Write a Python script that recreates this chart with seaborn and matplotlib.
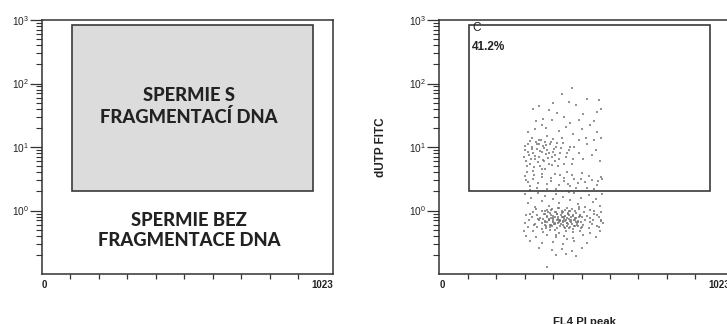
import matplotlib
matplotlib.use("Agg")
import matplotlib.pyplot as plt
import matplotlib.ticker as mticker
from matplotlib.patches import Rectangle
import seaborn as sns
import pandas as pd

# ---------------- data ----------------
x_limits = [0, 1023]
y_limits = [0.1, 1000]
x_tick_values = [0, 1023]
x_tick_labels = ["0", "1023"]
x_minor_ticks = [100, 200, 300, 400, 500, 600, 700, 800, 900]
y_tick_values = [1, 10, 100, 1000]
y_tick_labels = [r"$\mathregular{10^{0}}$", r"$\mathregular{10^{1}}$",
                 r"$\mathregular{10^{2}}$", r"$\mathregular{10^{3}}$"]

gate_x = [105, 953]      # FL4 PI peak range of gate C
gate_y = [2.0, 830]      # dUTP FITC range of gate C
gate_name = "C"
gate_percent = "41.2%"

label_fragmented = "SPERMIE S\nFRAGMENTACÍ DNA"
label_intact = "SPERMIE BEZ\nFRAGMENTACE DNA"
label_fragmented_pos = [517, 44]
label_intact_pos = [517, 0.49]

x_label = "FL4 PI peak"
y_label = "dUTP FITC"

# events inside gate C (fragmented DNA)
events_in_x = [465, 430, 350, 385, 520, 560, 555, 400, 480, 330, 505, 440, 365, 545, 415, 490, 340, 570, 455, 395,
               310, 335, 360, 380, 420, 445, 470, 500, 530, 555, 570, 325, 350, 400, 430, 460, 515, 545, 375, 490,
               300, 305, 310, 315, 320, 325, 330, 335, 340, 345, 350, 352, 355, 360, 365, 368, 372, 375, 380, 385,
               390, 395, 400, 405, 410, 418, 425, 435, 445, 455, 465, 475, 490, 505, 520, 535, 550, 565, 330, 360,
               300, 312, 328, 345, 362, 378, 392, 410, 425, 440, 458, 472, 488, 502, 520, 538, 556, 570, 318, 450,
               298, 302, 308, 313, 318, 322, 327, 333, 338, 343, 348, 353, 358, 363, 367, 371, 376, 382, 387, 392,
               397, 403, 408, 413, 420, 428, 438, 448, 458, 470,
               303, 317, 332, 347, 362, 377, 392, 407, 422, 437, 452, 467, 482, 497, 512, 527, 542, 557, 572, 308]
events_in_y = [85, 68, 44, 38, 58, 55, 36, 50, 46, 40, 33, 30, 28, 26, 34, 27, 26, 40, 52, 27,
               17, 19, 22, 15, 18, 21, 16, 19, 22, 17, 14, 14, 13, 13.5, 14, 24, 14, 13, 20, 13,
               9, 6, 11, 7.5, 5.5, 10, 8, 6.5, 12, 9.5, 7, 11, 5, 8.5, 10.5, 6, 12, 7.8, 9, 5.5,
               11, 7, 8.5, 6, 10, 5, 8, 11.5, 7, 9, 5.5, 10, 8, 6.5, 11, 7.5, 9, 6, 4.2, 4.5,
               3.5, 2.8, 3.1, 2.3, 3.8, 2.6, 3.3, 2.2, 3.6, 2.9, 2.4, 3.2, 2.7, 3.9, 2.3, 3.0, 2.5, 3.4, 2.1, 4.0,
               7, 10.5, 5, 8.5, 12.5, 6.5, 9.5, 4.8, 7.2, 11, 5.8, 8.8, 13, 6.2, 9.8, 4.6, 10.8, 6.8, 8.2, 12,
               5.2, 9.2, 7.6, 11.8, 6.4, 9.6, 5.4, 8, 10.2, 6.6,
               3.0, 2.4, 3.7, 2.7, 3.4, 2.2, 2.9, 3.8, 2.5, 3.3, 2.6, 3.6, 2.3, 3.1, 2.8, 3.5, 2.2, 2.9, 3.2, 4.1]

# events outside gate C (intact DNA)
events_out_x = [300, 310, 322, 335, 348, 360, 372, 385, 398, 410, 422, 436, 448, 460, 474, 486, 498, 512, 526, 540,
                552, 565, 572, 455, 395,
                340, 380, 420, 455, 490, 530,
                330, 360, 390, 410, 435, 460, 480, 510, 545, 570,
                305, 345, 372, 398, 415, 428, 442, 452, 470, 495, 520, 555,
                325, 355, 378, 392, 405, 418, 430, 440, 448, 462, 478, 500, 528, 560,
                315, 350, 370, 385, 400, 412, 425, 436, 445, 458, 472, 488, 512, 540, 568,
                300, 335, 362, 388, 402, 420, 433, 450, 465, 485, 505, 535, 575,
                310, 345, 375, 395, 415, 438, 455, 478, 500, 525, 560,
                298, 330, 365, 390, 420, 445, 470, 495, 530, 565,
                305, 340, 380, 410, 440, 470, 505, 550,
                320, 360, 400, 435, 475, 520,
                350, 395, 430, 465, 500,
                410, 445, 480,
                380,
                365, 372, 379, 386, 393, 400, 407, 414, 421, 428, 435, 442, 449, 456, 463, 470, 477, 484, 491, 498,
                368, 376, 384, 392, 400, 408, 416, 424, 432, 440, 448, 456, 464, 472, 480, 488, 496,
                362, 371, 380, 389, 398, 407, 416, 425, 434, 443, 452, 461, 470, 479, 488, 497,
                370, 382, 394, 406, 418, 430, 442, 454, 466, 478, 490,
                318, 332, 346, 528, 542, 556, 570,
                410, 450]
events_out_y = [1.8, 1.3, 1.6, 1.15, 1.9, 1.4, 1.7, 1.2, 1.55, 1.85, 1.3, 1.65, 1.1, 1.45, 1.9, 1.25, 1.6, 1.15, 1.75, 1.35,
                1.55, 1.2, 1.8, 1.95, 1.05,
                1.05, 1.02, 1.08, 1.0, 1.06, 1.03,
                0.95, 0.97, 0.93, 0.96, 0.94, 0.98, 0.92, 0.95, 0.97, 0.94,
                0.86, 0.84, 0.87, 0.83, 0.88, 0.85, 0.82, 0.87, 0.84, 0.86, 0.83, 0.85,
                0.78, 0.76, 0.79, 0.77, 0.8, 0.75, 0.78, 0.8, 0.76, 0.79, 0.77, 0.8, 0.76, 0.78,
                0.7, 0.72, 0.69, 0.71, 0.68, 0.72, 0.7, 0.67, 0.71, 0.69, 0.72, 0.68, 0.7, 0.71, 0.69,
                0.63, 0.61, 0.64, 0.6, 0.62, 0.65, 0.6, 0.63, 0.61, 0.64, 0.6, 0.62, 0.63,
                0.55, 0.56, 0.54, 0.57, 0.53, 0.56, 0.54, 0.57, 0.55, 0.53, 0.56,
                0.47, 0.48, 0.46, 0.49, 0.45, 0.48, 0.46, 0.47, 0.45, 0.48,
                0.4, 0.38, 0.41, 0.39, 0.4, 0.37, 0.41, 0.39,
                0.33, 0.31, 0.32, 0.3, 0.33, 0.31,
                0.26, 0.24, 0.25, 0.23, 0.26,
                0.2, 0.21, 0.19,
                0.13,
                0.74, 0.66, 0.81, 0.7, 0.59, 0.77, 0.64, 0.88, 0.72, 0.62, 0.8, 0.69, 0.58, 0.75, 0.66, 0.83, 0.71, 0.6, 0.78, 0.67,
                0.9, 0.57, 0.73, 0.85, 0.65, 0.61, 0.79, 0.68, 0.92, 0.74, 0.63, 0.86, 0.7, 0.58, 0.76, 0.65, 0.82,
                0.52, 0.6, 0.67, 0.55, 0.73, 0.5, 0.64, 0.57, 0.69, 0.53, 0.62, 0.56, 0.51, 0.66, 0.58, 0.54,
                1.0, 0.96, 1.04, 0.94, 1.1, 0.98, 1.02, 0.93, 1.06, 0.99, 1.12,
                0.9, 0.6, 0.75, 0.66, 0.88, 0.58, 0.72,
                0.42, 0.36]

events = pd.DataFrame({
    "FL4": events_in_x + events_out_x,
    "FITC": events_in_y + events_out_y,
})

# ---------------- style ----------------
sns.set_style("ticks")
plt.rcParams["font.family"] = ["Liberation Sans", "DejaVu Sans"]
plt.rcParams["mathtext.fontset"] = "custom"
plt.rcParams["mathtext.rm"] = "Liberation Sans:bold"
plt.rcParams["mathtext.it"] = "Liberation Sans:bold"
plt.rcParams["mathtext.bf"] = "Liberation Sans:bold"

SPINE = "#333333"
TEXT = "#222222"

fig = plt.figure(figsize=(7.27, 3.24), dpi=100)
ax_l = fig.add_axes([0.0578, 0.154, 0.4003, 0.784])
ax_r = fig.add_axes([0.6043, 0.154, 0.4003, 0.784])


def style_axes(ax):
    ax.set_yscale("log")
    ax.set_xlim(*x_limits)
    ax.set_ylim(*y_limits)
    for s in ax.spines.values():
        s.set_visible(True)
        s.set_color(SPINE)
        s.set_linewidth(1.1)
    ax.set_xticks(x_tick_values)
    ax.set_xticklabels(x_tick_labels, fontsize=7, fontweight="bold", color=TEXT)
    lbls = ax.get_xticklabels()
    lbls[0].set_ha("left")
    lbls[1].set_ha("right")
    ax.xaxis.set_minor_locator(mticker.FixedLocator(x_minor_ticks))
    ax.tick_params(axis="x", which="major", length=0, pad=4)
    ax.tick_params(axis="x", which="minor", length=3.5, width=0.9, color=SPINE, direction="out")
    ax.set_yticks(y_tick_values)
    ax.set_yticklabels(y_tick_labels, fontsize=7.3, color=TEXT)
    ax.yaxis.set_minor_locator(mticker.LogLocator(base=10, subs=range(2, 10), numticks=20))
    ax.yaxis.set_minor_formatter(mticker.NullFormatter())
    ax.tick_params(axis="y", which="major", length=8.5, width=0.9, color=SPINE, pad=1.2, direction="out")
    ax.tick_params(axis="y", which="minor", length=4.2, width=0.8, color=SPINE, direction="out")
    ax.set_xlabel("")
    ax.set_ylabel("")


# ---------------- left panel: schematic ----------------
style_axes(ax_l)
ax_l.add_patch(Rectangle((gate_x[0], gate_y[0]), gate_x[1] - gate_x[0], gate_y[1] - gate_y[0],
                         facecolor="#dcdcdc", edgecolor="#3a3a3a", linewidth=1.2, zorder=1))
ax_l.text(label_fragmented_pos[0], label_fragmented_pos[1], label_fragmented, ha="center", va="center",
          fontsize=13.2, family="Lato", fontweight="black", color=TEXT, linespacing=1.25, zorder=3)
ax_l.text(label_intact_pos[0], label_intact_pos[1], label_intact, ha="center", va="center",
          fontsize=13.2, family="Lato", fontweight="black", color=TEXT, linespacing=1.25, zorder=3)

# ---------------- right panel: data ----------------
sns.scatterplot(data=events, x="FL4", y="FITC", ax=ax_r, s=2.2, marker="s", color="#707070",
                linewidth=0, alpha=0.75, legend=False, zorder=2)
style_axes(ax_r)
ax_r.add_patch(Rectangle((gate_x[0], gate_y[0]), gate_x[1] - gate_x[0], gate_y[1] - gate_y[0],
                         facecolor="none", edgecolor="#3a3a3a", linewidth=1.2, zorder=3))
ax_r.text(0.113, 0.992, gate_name, transform=ax_r.transAxes, ha="left", va="top",
          fontsize=8.5, color=TEXT, zorder=4)
ax_r.text(0.113, 0.918, gate_percent, transform=ax_r.transAxes, ha="left", va="top",
          fontsize=8.5, fontweight="bold", color=TEXT, zorder=4)
ax_r.set_ylabel(y_label, fontsize=8.5, fontweight="bold", color=TEXT)
ax_r.yaxis.set_label_coords(-0.18, 0.5)
ax_r.set_xlabel(x_label, fontsize=8.2, fontweight="bold", color=TEXT)
ax_r.xaxis.set_label_coords(0.5, -0.17)

fig.savefig("out.png", dpi=100)
